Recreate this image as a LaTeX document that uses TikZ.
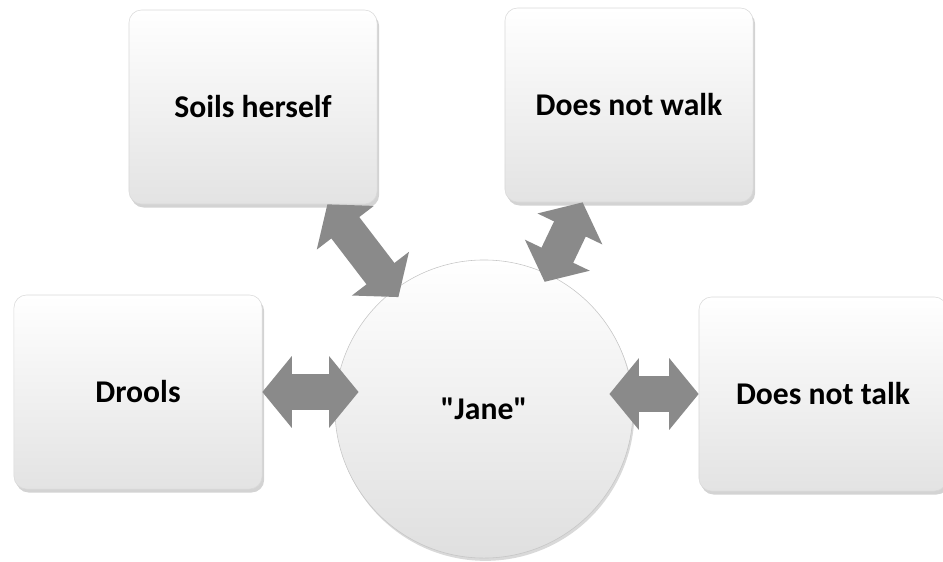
\documentclass[tikz,border=0pt]{standalone}
\usepackage{fontspec}
\setmainfont{Carlito}[Ligatures=TeXOff]
\usetikzlibrary{arrows.meta,shadows}
\definecolor{arrowgray}{RGB}{138,138,138}

\begin{document}
\begin{tikzpicture}[x=0.025cm, y=-0.025cm,
    box/.style={rectangle, rounded corners=9pt, draw=gray!30, top color=white, bottom color=gray!22,
      minimum width=6.2cm, minimum height=4.85cm, font=\bfseries\fontsize{22.5}{27}\selectfont,
      drop shadow={opacity=0.35, shadow xshift=1.5pt, shadow yshift=-2.5pt}},
    hub/.style={circle, draw=gray!45, top color=white, bottom color=gray!25, minimum size=7.45cm,
      font=\bfseries\fontsize{22.5}{27}\selectfont,
      drop shadow={opacity=0.3, shadow xshift=1pt, shadow yshift=-2pt}},
    link/.style={line width=25pt, draw=arrowgray,
      {Triangle[length=21pt,width=50pt]}-{Triangle[length=21pt,width=50pt]}}]
  \useasboundingbox (0,0) rectangle (943,561);
  \node (jane) [hub] at (484,409) {"Jane"};
  \node (soils) [box] at (253,107) {Soils herself};
  \node (walk) [box] at (629,105) {Does not walk};
  \node (drools) [box] at (138,392) {Drools};
  \node (talk) [box] at (823,394) {Does not talk};
  \draw [link, shorten >=-6pt] (soils) -- (jane);
  \draw [link, shorten >=-6pt] (walk) -- (jane);
  \draw [link, shorten >=-17pt] (drools.east) -- (drools.east -| jane.west);
  \draw [link, shorten <=-17pt] (jane.east |- talk.west) -- (talk.west);
\end{tikzpicture}
\end{document}
